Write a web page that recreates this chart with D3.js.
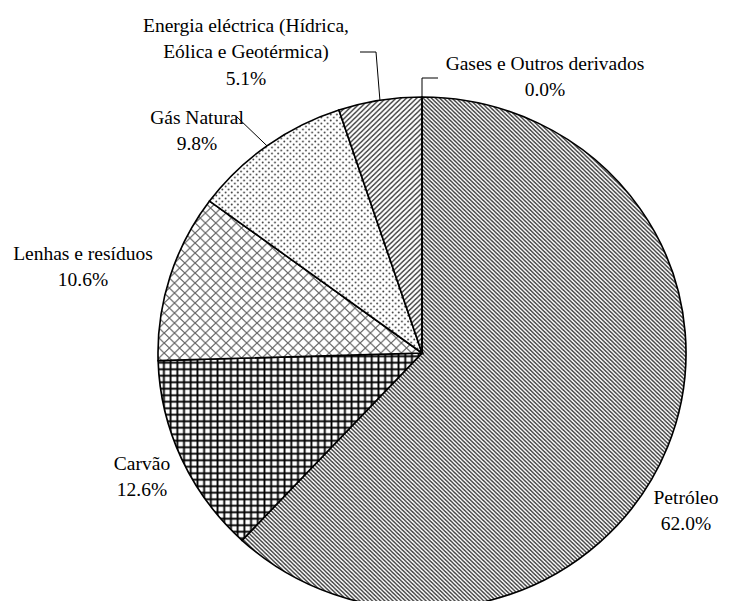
<html>
<head>
<meta charset="utf-8">
<style>
  body { margin: 0; background: #fff; }
  text { font-family: "Liberation Serif", "Times New Roman", serif; font-size: 19.5px; fill: #000; }
  .slice { stroke: #000; stroke-width: 1.6px; }
  .leader { fill: none; stroke: #000; stroke-width: 1px; }
</style>
</head>
<body>
<script src="https://cdn.jsdelivr.net/npm/d3@7"></script>
<script>

// data
var categories = ["Petróleo", "Carvão", "Lenhas e resíduos", "Gás Natural",
                  "Energia eléctrica (Hídrica, Eólica e Geotérmica)", "Gases e Outros derivados"];
var values = [62.0, 12.6, 10.6, 9.8, 5.1, 0.0];
var labelLines = [
  ["Petróleo"],
  ["Carvão"],
  ["Lenhas e resíduos"],
  ["Gás Natural"],
  ["Energia eléctrica (Hídrica,", "Eólica e Geotérmica)"],
  ["Gases e Outros derivados"]
];

// layout of labels (center x, center y of first line) and leader elbows
var labelPos = [[686, 497], [142, 463], [83, 253], [197, 117], [246, 25], [545, 63]];
var leaders = { 3: [[237, 117]], 4: [[360, 52], [376, 52]], 5: [[438, 78], [422, 78]] };

var W = 752, H = 601;
var cx = 422, cy = 353, ry = 256, rx = 264;
var lineH = 26.5;

var svg = d3.select("body").append("svg")
    .attr("width", W)
    .attr("height", H);

// fill patterns
var defs = svg.append("defs");
function pat(id, size) {
  return defs.append("pattern")
    .attr("id", id)
    .attr("patternUnits", "userSpaceOnUse")
    .attr("width", size).attr("height", size);
}
function bg(p, size) {
  p.append("rect").attr("width", size).attr("height", size).attr("fill", "#fff");
}

// Petróleo: dense downward diagonal
var p0 = pat("p0", 4); bg(p0, 4);
p0.append("path").attr("d", "M-1,-1L5,5M-1,3L1,5M3,-1L5,1")
  .attr("stroke", "#444").attr("stroke-width", 1.4);

// Carvão: square grid
var p1 = pat("p1", 6.5); bg(p1, 6.5);
p1.append("path").attr("d", "M0,3.25H6.5M3.25,0V6.5")
  .attr("stroke", "#000").attr("stroke-width", 1.8);

// Lenhas: diagonal crosshatch
var p2 = pat("p2", 10); bg(p2, 10);
p2.append("path").attr("d", "M-1,-1L11,11M-1,11L11,-1")
  .attr("stroke", "#666").attr("stroke-width", 1.2);

// Gás Natural: dots
var p3 = pat("p3", 6); bg(p3, 6);
p3.append("circle").attr("cx", 1.5).attr("cy", 1.5).attr("r", 0.9).attr("fill", "#444");
p3.append("circle").attr("cx", 4.5).attr("cy", 4.5).attr("r", 0.9).attr("fill", "#444");

// Energia: upward diagonal
var p4 = pat("p4", 5); bg(p4, 5);
p4.append("path").attr("d", "M-1,6L6,-1M-1,1L1,-1M4,6L6,4")
  .attr("stroke", "#444").attr("stroke-width", 1.4);

// Gases: same as Petróleo (zero size anyway)
var fills = ["url(#p0)", "url(#p1)", "url(#p2)", "url(#p3)", "url(#p4)", "url(#p0)"];

var pie = d3.pie().sort(null).value(function(d) { return d; });
var arcs = pie(values);

var arc = d3.arc().innerRadius(0).outerRadius(ry);

var g = svg.append("g")
    .attr("transform", "translate(" + cx + "," + cy + ") scale(" + (rx / ry) + ",1)");

g.selectAll("path")
  .data(arcs)
  .enter().append("path")
    .attr("class", "slice")
    .attr("fill", function(d, i) { return fills[i]; })
    .attr("d", arc);

// leader lines: from elbow(s) to the arc at the slice mid angle
Object.keys(leaders).forEach(function(k) {
  var a = arcs[k];
  var m = (a.startAngle + a.endAngle) / 2;
  var end = [cx + Math.sin(m) * rx, cy - Math.cos(m) * ry];
  svg.append("path")
    .attr("class", "leader")
    .attr("d", d3.line()(leaders[k].concat([end])));
});

// labels
arcs.forEach(function(a, i) {
  var lines = labelLines[i].concat([d3.format(".1f")(values[i]) + "%"]);
  var t = svg.append("text")
    .attr("text-anchor", "middle")
    .attr("x", labelPos[i][0])
    .attr("y", labelPos[i][1]);
  lines.forEach(function(s, j) {
    t.append("tspan")
      .attr("x", labelPos[i][0])
      .attr("y", labelPos[i][1] + j * lineH)
      .attr("dy", "0.35em")
      .text(s);
  });
});

</script>
</body>
</html>
